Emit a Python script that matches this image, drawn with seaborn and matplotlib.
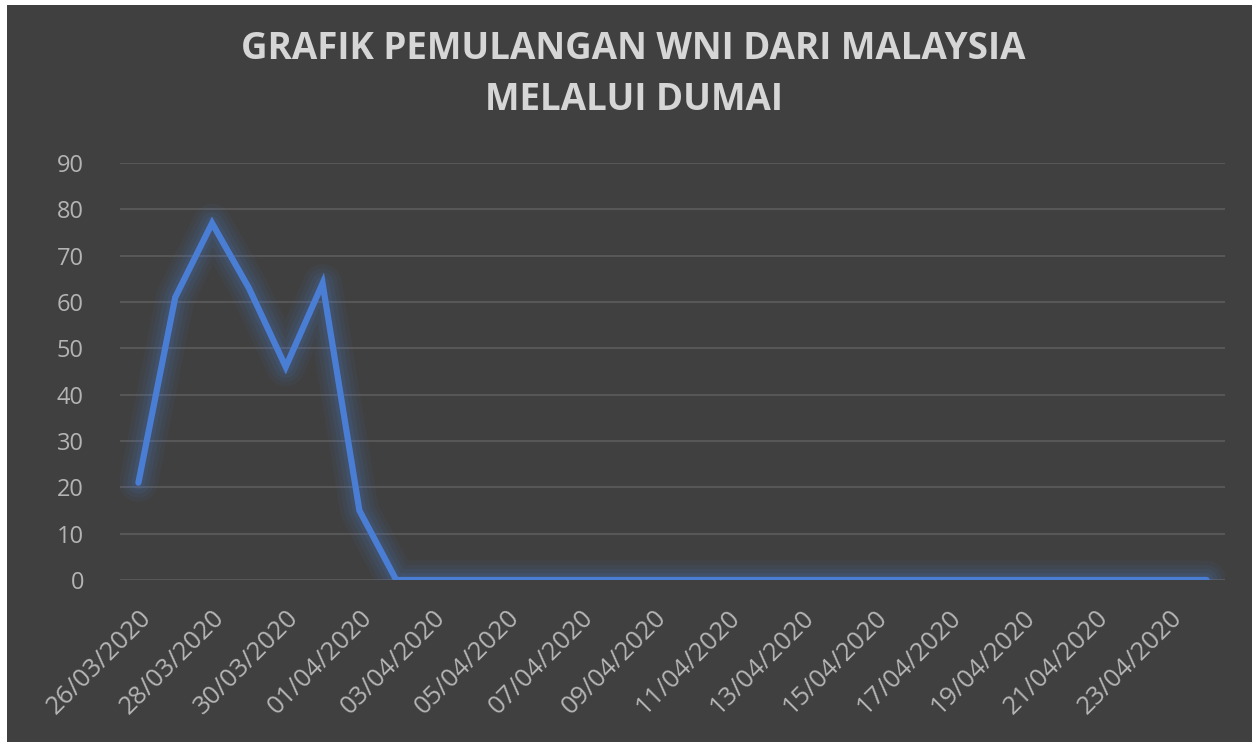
import numpy as np
import pandas as pd
import matplotlib.pyplot as plt
import matplotlib.patches as mpatches
import seaborn as sns

dates = pd.date_range("2020-03-26", "2020-04-24", freq="D")
date_labels = [d.strftime("%d/%m/%Y") for d in dates]
values = [21, 61, 77, 63, 46, 64, 15, 0, 0, 0,
          0, 0, 0, 0, 0, 0, 0, 0, 0, 0,
          0, 0, 0, 0, 0, 0, 0, 0, 0, 0]
y_ticks = [0, 10, 20, 30, 40, 50, 60, 70, 80, 90]
title = "GRAFIK PEMULANGAN WNI DARI MALAYSIA\nMELALUI DUMAI"

df = pd.DataFrame({"pos": np.arange(len(values)), "value": values})

bg = "#404040"
line_color = "#4a7dd4"
text_color = "#b4b4b4"

sns.set_style("dark")
plt.rcParams["font.family"] = ["Open Sans", "DejaVu Sans"]

fig = plt.figure(figsize=(12.52, 7.42), dpi=100, facecolor="white")
fig.patches.append(mpatches.Rectangle((7 / 1252, 0), 1, 1 - 5 / 742,
                                      transform=fig.transFigure,
                                      facecolor=bg, edgecolor="none", zorder=-10))
ax = fig.add_axes([120 / 1252, (742 - 580) / 742, 1105 / 1252, (580 - 163) / 742])
ax.set_facecolor(bg)

# soft glow under the line
for lw, a in [(28, 0.05), (22, 0.07), (16, 0.09), (10, 0.12)]:
    sns.lineplot(data=df, x="pos", y="value", ax=ax, color=line_color,
                 linewidth=lw, alpha=a, solid_capstyle="round",
                 solid_joinstyle="round", zorder=2)
sns.lineplot(data=df, x="pos", y="value", ax=ax, color=line_color,
             linewidth=4.5, solid_capstyle="round", solid_joinstyle="miter",
             zorder=3)

ax.set_xlim(-0.5, len(values) - 0.5)
ax.set_ylim(0, 90)
ax.set_yticks(y_ticks)
ax.set_yticklabels([str(t) for t in y_ticks], color=text_color, fontsize=17)
ax.yaxis.grid(True, color="#5a5a5a", linewidth=1.3)
ax.xaxis.grid(False)
tick_pos = list(range(0, len(values), 2))
ax.set_xticks(tick_pos)
ax.set_xticklabels([date_labels[i] for i in tick_pos], rotation=45,
                   ha="right", rotation_mode="anchor", color=text_color,
                   fontsize=18.5)
ax.tick_params(axis="both", length=0)
ax.tick_params(axis="x", pad=18)
ax.tick_params(axis="y", pad=26)
ax.set_xlabel("")
ax.set_ylabel("")
for s in ax.spines.values():
    s.set_visible(False)

fig.text(0.506, 0.9, title, ha="center", va="center", color="#d6d6d6",
         fontsize=26.5, fontweight="bold", linespacing=1.45)

fig.savefig("out.png", dpi=100, facecolor=fig.get_facecolor())
